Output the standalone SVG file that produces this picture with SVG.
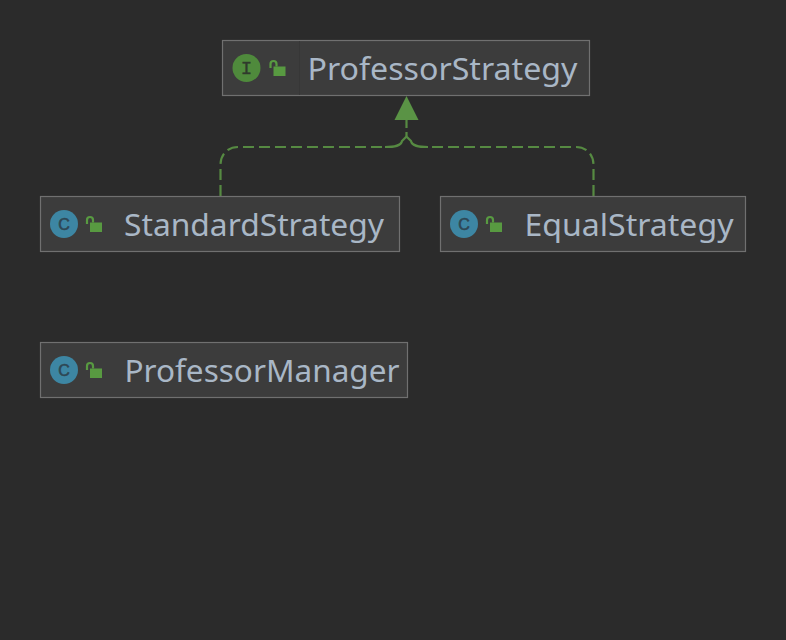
<svg xmlns="http://www.w3.org/2000/svg" width="786" height="640" viewBox="0 0 786 640">
<defs>
<style>
.box{fill:#3c3c3c;stroke:#707070;stroke-width:1.2}
.sep{stroke:#373737;stroke-width:1}
.lbl{font-family:"Noto Sans","Open Sans",sans-serif;font-size:30px;fill:#a9b7c6}
.badge-c{fill:#3d86a3}
.badge-i{fill:#4f8a3c}
.glyph-c{font-family:"Liberation Sans",sans-serif;font-size:16px;text-anchor:middle;fill:#2e4754;stroke:#2e4754;stroke-width:.6}
.glyph-i{font-family:"Liberation Mono",monospace;font-size:19px;text-anchor:middle;fill:#2f3a2c;stroke:#2f3a2c;stroke-width:.4}
.lockbody{fill:#589a41}
.shackle{fill:none;stroke:#589a41;stroke-width:2.2}
.edge{fill:none;stroke:#568a42;stroke-width:2.2;stroke-dasharray:11 5}
.solid{fill:none;stroke:#568a42;stroke-width:2.2}
</style>
<g id="lock">
<path class="shackle" d="M1 0V-4a3 3 0 0 1 6 0V-1.500"/>
<rect class="lockbody" x="4" y="-1.500" width="12" height="9.500"/>
</g>
</defs>
<rect width="786" height="640" fill="#2b2b2b"/>
<g id="connectors">
<path class="edge" d="M220.500 196V165C220.500 154 228 147 238 147H385"/>
<path class="edge" d="M593.500 196V165C593.500 154 586 147 576 147H428"/>
<path class="solid" d="M385 147C395 147 401 146 402 141L406.500 136.500L411 141C412 146 418 147 428 147"/>
<path class="solid" d="M406.500 120V128M406.500 132V136.500"/>
<polygon points="406.500,96 394.500,120 418.500,120" fill="#5a9345"/>
</g>
<g id="node-professorstrategy">
<rect class="box" x="222.500" y="40.500" width="367" height="55"/>
<line class="sep" x1="299.500" y1="41" x2="299.500" y2="95"/>
<circle class="badge-i" cx="246.500" cy="68" r="14"/>
<text class="glyph-i" x="246.500" y="74">I</text>
<use href="#lock" x="269.500" y="68"/>
<text class="lbl" x="307.500" y="80" textLength="270" lengthAdjust="spacingAndGlyphs">ProfessorStrategy</text>
</g>
<g id="node-standardstrategy">
<rect class="box" x="40.500" y="196.500" width="359" height="55"/>
<circle class="badge-c" cx="64" cy="224" r="14"/>
<text class="glyph-c" x="64" y="230">C</text>
<use href="#lock" x="86" y="224"/>
<text class="lbl" x="124" y="236" textLength="260" lengthAdjust="spacingAndGlyphs">StandardStrategy</text>
</g>
<g id="node-equalstrategy">
<rect class="box" x="440.500" y="196.500" width="305" height="55"/>
<circle class="badge-c" cx="464" cy="224" r="14"/>
<text class="glyph-c" x="464" y="230">C</text>
<use href="#lock" x="486" y="224"/>
<text class="lbl" x="524.500" y="236" textLength="209" lengthAdjust="spacingAndGlyphs">EqualStrategy</text>
</g>
<g id="node-professormanager">
<rect class="box" x="40.500" y="342.500" width="367" height="55"/>
<circle class="badge-c" cx="64" cy="370" r="14"/>
<text class="glyph-c" x="64" y="376">C</text>
<use href="#lock" x="86" y="370"/>
<text class="lbl" x="124.500" y="382" textLength="275" lengthAdjust="spacingAndGlyphs">ProfessorManager</text>
</g>
</svg>
